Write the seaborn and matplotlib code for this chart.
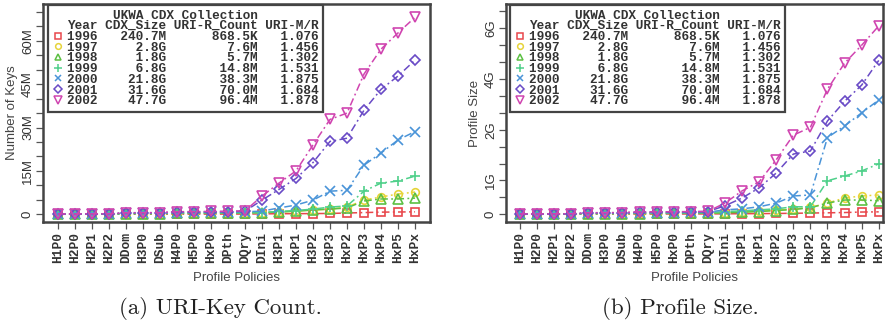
import numpy as np
import pandas as pd
import seaborn as sns
import matplotlib
matplotlib.use("Agg")
import matplotlib.pyplot as plt
from matplotlib.lines import Line2D
from matplotlib.ticker import FixedLocator, FixedFormatter, NullFormatter

# ---------------- data ----------------
policies = ["H1P0", "H2P0", "H2P1", "H2P2", "DDom", "H3P0", "DSub", "H4P0", "H5P0",
            "HxP0", "DPth", "DQry", "DIni", "H3P1", "HxP1", "H3P2", "H3P3", "HxP2",
            "HxP3", "HxP4", "HxP5", "HxPx"]

years = ["1996", "1997", "1998", "1999", "2000", "2001", "2002"]
cdx_size = ["240.7M", "2.8G", "1.8G", "6.8G", "21.8G", "31.6G", "47.7G"]
uri_r_count = ["868.5K", "7.6M", "5.7M", "14.8M", "38.3M", "70.0M", "96.4M"]
uri_m_r = ["1.076", "1.456", "1.302", "1.531", "1.875", "1.684", "1.878"]

# URI-key count (millions)
keys_1996 = [0.02, 0.02, 0.03, 0.03, 0.05, 0.05, 0.06, 0.07, 0.07, 0.08, 0.08, 0.09,
             0.15, 0.20, 0.22, 0.25, 0.30, 0.45, 0.60, 0.75, 0.80, 0.85]
keys_1997 = [0.05, 0.06, 0.07, 0.08, 0.20, 0.22, 0.25, 0.35, 0.38, 0.40, 0.45, 0.50,
             0.60, 0.80, 1.10, 1.50, 1.80, 2.50, 4.90, 6.00, 7.00, 7.70]
keys_1998 = [0.04, 0.05, 0.06, 0.07, 0.15, 0.17, 0.20, 0.30, 0.32, 0.35, 0.38, 0.42,
             0.60, 0.80, 1.10, 1.50, 1.80, 2.20, 4.60, 5.30, 5.30, 5.60]
keys_1999 = [0.06, 0.07, 0.08, 0.10, 0.25, 0.28, 0.30, 0.45, 0.48, 0.50, 0.55, 0.60,
             0.60, 1.00, 1.30, 1.80, 2.50, 2.90, 8.00, 10.8, 11.5, 13.2]
keys_2000 = [0.08, 0.10, 0.12, 0.15, 0.35, 0.40, 0.45, 0.60, 0.65, 0.70, 0.75, 0.85,
             1.10, 2.20, 3.20, 4.90, 8.00, 8.30, 17.0, 21.2, 25.7, 28.6]
keys_2001 = [0.10, 0.12, 0.15, 0.18, 0.50, 0.52, 0.55, 0.80, 0.85, 0.90, 0.95, 1.10,
             4.90, 8.60, 12.4, 17.9, 25.2, 26.3, 36.0, 43.2, 47.8, 53.3]
keys_2002 = [0.12, 0.14, 0.17, 0.20, 0.55, 0.58, 0.60, 0.90, 0.95, 1.00, 1.05, 1.20,
             6.30, 10.8, 15.0, 24.0, 32.8, 35.0, 48.5, 57.1, 62.7, 68.1]

# Profile size (G)
size_1996 = [0.002, 0.002, 0.003, 0.003, 0.005, 0.005, 0.006, 0.007, 0.007, 0.008, 0.008, 0.009,
             0.012, 0.015, 0.018, 0.022, 0.028, 0.035, 0.042, 0.050, 0.065, 0.070]
size_1997 = [0.004, 0.005, 0.006, 0.007, 0.015, 0.016, 0.018, 0.025, 0.027, 0.030, 0.032, 0.035,
             0.05, 0.07, 0.09, 0.12, 0.15, 0.20, 0.33, 0.48, 0.54, 0.57]
size_1998 = [0.003, 0.004, 0.005, 0.006, 0.012, 0.013, 0.015, 0.020, 0.022, 0.025, 0.027, 0.030,
             0.04, 0.06, 0.08, 0.11, 0.14, 0.19, 0.33, 0.42, 0.42, 0.40]
size_1999 = [0.005, 0.006, 0.007, 0.008, 0.020, 0.022, 0.025, 0.035, 0.037, 0.040, 0.042, 0.045,
             0.08, 0.10, 0.13, 0.16, 0.22, 0.22, 0.99, 1.13, 1.28, 1.49]
size_2000 = [0.006, 0.007, 0.008, 0.010, 0.028, 0.030, 0.033, 0.045, 0.048, 0.050, 0.055, 0.060,
             0.13, 0.16, 0.22, 0.33, 0.54, 0.57, 2.27, 2.61, 3.00, 3.38]
size_2001 = [0.008, 0.009, 0.010, 0.012, 0.040, 0.042, 0.045, 0.060, 0.065, 0.070, 0.072, 0.080,
             0.25, 0.48, 0.78, 1.22, 1.78, 1.87, 2.76, 3.34, 3.82, 4.55]
size_2002 = [0.009, 0.010, 0.012, 0.014, 0.045, 0.048, 0.050, 0.070, 0.072, 0.075, 0.078, 0.085,
             0.33, 0.69, 0.96, 1.61, 2.34, 2.57, 3.70, 4.47, 5.00, 5.57]

keys_series = [keys_1996, keys_1997, keys_1998, keys_1999, keys_2000, keys_2001, keys_2002]
size_series = [size_1996, size_1997, size_1998, size_1999, size_2000, size_2001, size_2002]

# ---------------- styling ----------------
colors = ["#E8474B", "#E6D43A", "#5CC043", "#4FD08A", "#4A94D8", "#6A4BC6", "#D045B0"]
markers = ["s", "o", "^", "+", "x", "D", "v"]
msizes = [5.5, 5.5, 6.5, 7.5, 6.5, 5.5, 7.0]
dash = (0, (5, 2.2, 1.2, 2.2))

sns.set_theme(style="white")
plt.rcParams["font.family"] = ["Liberation Sans", "DejaVu Sans"]

fig = plt.figure(figsize=(8.94, 3.26), dpi=100)
axL = fig.add_axes([43 / 894, 104 / 326, 387 / 894, 218 / 326])
axR = fig.add_axes([506 / 894, 104 / 326, 377 / 894, 218 / 326])

frame_col = "#444444"
mono = ["Liberation Mono", "DejaVu Sans Mono"]


def draw(ax, series):
    xs = np.arange(len(policies))
    for vals, c, m, ms in zip(series, colors, markers, msizes):
        df = pd.DataFrame({"policy": xs, "value": vals})
        sns.lineplot(data=df, x="policy", y="value", ax=ax, color=c, lw=1.1,
                     linestyle=dash, marker=m, markersize=ms,
                     markerfacecolor="none", markeredgecolor=c, markeredgewidth=1.2)
    ax.set_xticks(xs)
    ax.set_xticklabels(policies, rotation=90, family=mono, fontweight="bold",
                       fontsize=9.3, color="#333333")
    ax.set_xlabel("Profile Policies", fontsize=9.5, color="#444444", labelpad=6)
    for s in ax.spines.values():
        s.set_color(frame_col)
        s.set_linewidth(1.8)
    ax.tick_params(axis="both", which="both", direction="out", length=5, width=0.9,
                   colors="#555555", bottom=True, left=True)
    ax.tick_params(axis="y", labelsize=9.5, labelcolor="#333333", pad=1.5)
    ax.tick_params(axis="x", labelcolor="#333333", pad=2.5)


def legend(ax, xoff):
    handles = [Line2D([], [], linestyle="none")]
    labels = ["Year CDX_Size URI-R_Count URI-M/R"]
    for y, a, b, c, col, m, ms in zip(years, cdx_size, uri_r_count, uri_m_r, colors, markers, msizes):
        handles.append(Line2D([], [], linestyle="none", marker=m, markersize=ms * 0.75,
                              markerfacecolor="none", markeredgecolor=col, markeredgewidth=1.1))
        labels.append(f"{y} {a:>8} {b:>11} {c:>7}")
    leg = ax.legend(handles, labels, loc="upper left", bbox_to_anchor=(xoff, 0.995),
                    borderaxespad=0, title="UKWA CDX Collection",
                    prop={"family": mono, "weight": "bold", "size": 9.2},
                    title_fontproperties={"family": mono, "weight": "bold", "size": 9.2},
                    frameon=True, fancybox=False, framealpha=1, labelspacing=-0.1,
                    handlelength=0.8, handletextpad=0.3, borderpad=0.35)
    leg.get_frame().set_edgecolor(frame_col)
    leg.get_frame().set_linewidth(1.6)
    for t in leg.get_texts():
        t.set_color("#333333")
    leg.get_title().set_color("#333333")


def rotate_y(ax):
    for lab in ax.get_yticklabels():
        lab.set_rotation(90)
        lab.set_va("center")


# ---- left chart
draw(axL, keys_series)
axL.set_xlim(-0.88, 21.88)
axL.set_ylim(-2.66, 72.7)
axL.yaxis.set_major_locator(FixedLocator([0, 15, 30, 45, 60]))
axL.yaxis.set_major_formatter(FixedFormatter(["0", "15M", "30M", "45M", "60M"]))
axL.yaxis.set_minor_locator(FixedLocator(np.arange(0, 75, 5)))
axL.yaxis.set_minor_formatter(NullFormatter())
rotate_y(axL)
axL.set_ylabel("Number of Keys", fontsize=9.5, color="#444444", labelpad=3)
legend(axL, 5 / 387)

# ---- right chart
draw(axR, size_series)
axR.set_xlim(-0.82, 21.25)
axR.set_ylim(-0.23, 6.22)
axR.yaxis.set_major_locator(FixedLocator([0, 1, 2.5, 4, 5.5]))
axR.yaxis.set_major_formatter(FixedFormatter(["0", "1G", "2G", "4G", "6G"]))
axR.yaxis.set_minor_locator(FixedLocator(np.arange(0, 6.5, 0.5)))
axR.yaxis.set_minor_formatter(NullFormatter())
rotate_y(axR)
axR.set_ylabel("Profile Size", fontsize=9.5, color="#444444", labelpad=3)
legend(axR, 4 / 377)

# captions
cap_font = ["cmr10", "Liberation Serif", "DejaVu Serif"]
fig.text(220 / 894, 1 - 308 / 326, "(a) URI-Key Count.", ha="center", va="center",
         family=cap_font, fontsize=16.5, color="#222222")
fig.text(680 / 894, 1 - 308 / 326, "(b) Profile Size.", ha="center", va="center",
         family=cap_font, fontsize=16.5, color="#222222")

fig.savefig("out.png", dpi=100)
